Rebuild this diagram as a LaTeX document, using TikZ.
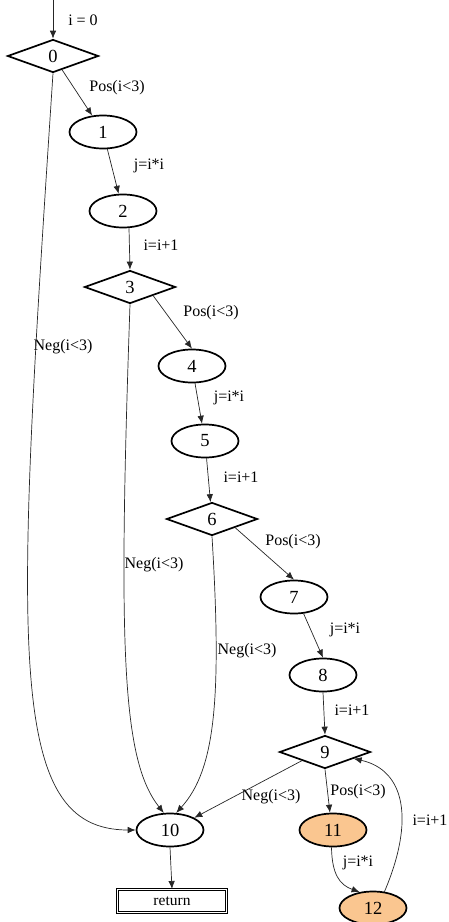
\documentclass[tikz,border=0pt]{standalone}
\usepackage{fontspec}
\setmainfont{Liberation Serif}
\usetikzlibrary{shapes.geometric,arrows.meta}
\definecolor{hot}{HTML}{FAC690}
\begin{document}
\begin{tikzpicture}[x=1pt,y=-1pt,
  ell/.style={draw,ellipse,line width=1.7pt,inner sep=0pt,minimum width=67pt,minimum height=33pt,font=\fontsize{18.5}{20}\selectfont},
  dia/.style={draw,diamond,line width=1.7pt,inner sep=0pt,minimum width=91pt,minimum height=33pt,font=\fontsize{18.5}{20}\selectfont},
  hotell/.style={ell,fill=hot},
  retbox/.style={draw,rectangle,double,double distance=0.6pt,line width=1pt,inner sep=0pt,minimum width=109pt,minimum height=23pt,font=\fontsize{15.5}{18}\selectfont},
  lbl/.style={inner sep=0pt,font=\fontsize{16}{18}\selectfont},
  edge/.style={line width=0.7pt,draw=black!85,-{Latex[length=8pt,width=6.5pt]}}]
\useasboundingbox (0,0) rectangle (448,922);
% nodes
\node[dia] (n0) at (53,56) {0};
\node[ell] (n1) at (103,132) {1};
\node[ell] (n2) at (123,211) {2};
\node[dia] (n3) at (130,287) {3};
\node[ell] (n4) at (192,366) {4};
\node[ell] (n5) at (205,441) {5};
\node[dia] (n6) at (212,519) {6};
\node[ell] (n7) at (294,597) {7};
\node[ell] (n8) at (323,675) {8};
\node[dia] (n9) at (325,752) {9};
\node[ell] (n10) at (170,830) {10};
\node[hotell] (n11) at (333,830) {11};
\node[hotell] (n12) at (373,908) {12};
\node[retbox] (nr) at (172,901) {\raisebox{-1pt}{return}};
\coordinate (st) at (53,0);
% labels
\node[lbl] (l0) at (83,20) {i = 0};
\node[lbl] (lp0) at (117,88) {Pos(i<3)};
\node[lbl] (lj1) at (149,166) {j=i*i};
\node[lbl] (li2) at (161,245) {i=i+1};
\node[lbl] (lp3) at (211,313) {Pos(i<3)};
\node[lbl] (ln0) at (63,347) {Neg(i<3)};
\node[lbl] (lj4) at (229,398) {j=i*i};
\node[lbl] (li5) at (241,477) {i=i+1};
\node[lbl] (lp6) at (293,542) {Pos(i<3)};
\node[lbl] (ln3) at (154,565) {Neg(i<3)};
\node[lbl] (ln6) at (247,651) {Neg(i<3)};
\node[lbl] (lj7) at (345,630) {j=i*i};
\node[lbl] (li8) at (352,710) {i=i+1};
\node[lbl] (ln9) at (271,797) {Neg(i<3)};
\node[lbl] (lp9) at (358,792) {Pos(i<3)};
\node[lbl] (lj11) at (358,863) {j=i*i};
\node[lbl] (li12) at (430,820) {i=i+1};
% edges
\draw[edge] (st) -- (n0.north);
\draw[edge] (n0) -- (n1);
\draw[edge] (n1) -- (n2);
\draw[edge] ([xshift=6pt]n2.south) -- (n3.north);
\draw[edge] (n3.south east) -- (n4.north);
\draw[edge] (n4) -- (n5);
\draw[edge] (n5) -- (n6);
\draw[edge] (n6.south east) -- (n7.north);
\draw[edge] (n7.-60) -- (n8.north);
\draw[edge] (n8.south) -- (n9.north);
\draw[edge] (n9.south) -- (n11.100);
\draw[edge] (n9.south west) -- (n10.north east);
\draw[edge] (n10.south) -- (nr.north);
\draw[edge] (n0.south) .. controls (15,650) and (5,830) .. (n10.west);
\draw[edge] (n3.south) .. controls (118,650) and (122,760) .. (n10.110);
\draw[edge] (n6.south) .. controls (222,700) and (215,770) .. (n10.70);
\draw[edge] (n11.-95) .. controls (332,875) and (340,885) .. (n12.130);
\draw[edge] (n12.55) .. controls (415,820) and (405,770) .. (n9.-13);
\end{tikzpicture}
\end{document}
